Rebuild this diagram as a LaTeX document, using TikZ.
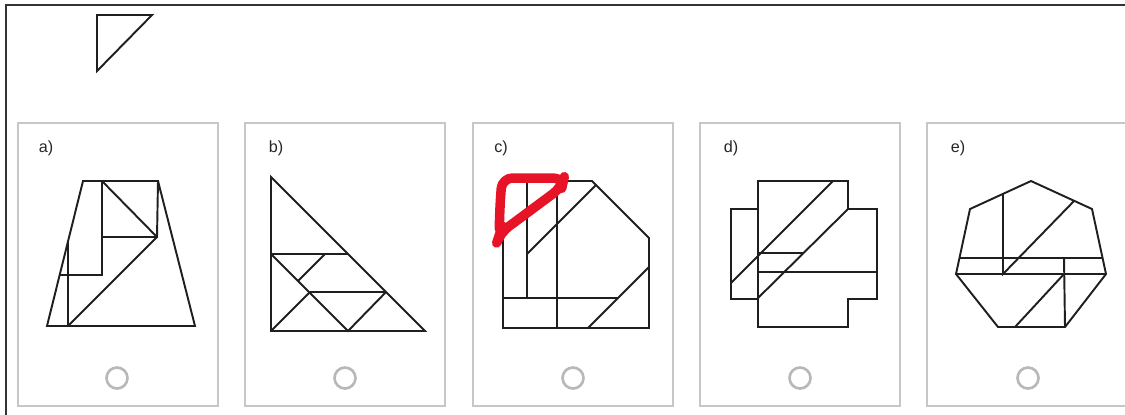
\documentclass[tikz,border=0pt]{standalone}
\usepackage{fontspec}
\setmainfont{Liberation Sans}
\begin{document}
\begin{tikzpicture}[x=0.1mm,y=-0.1mm,
  shp/.style={draw=black!88,line width=0.55pt,line join=miter},
  panel/.style={draw=black!22,line width=0.4pt},
  frame/.style={draw=black!80,line width=0.6pt},
  radio/.style={draw=black!28,line width=0.75pt},
  lbl/.style={font=\fontsize{4.6pt}{5pt}\selectfont,inner sep=0pt,text=black!85},
  redmark/.style={draw={rgb,255:red,230;green,20;blue,38},line width=0.95mm,line join=round,line cap=round,rounded corners=3}]
\useasboundingbox (0,0) rectangle (1125,414);
\begin{scope}
\clip (0,0) rectangle (1125,414);
% outer frame
\draw[frame] (6,430) -- (6,5) -- (1140,5);
% top triangle
\draw[shp] (97,15) -- (152,15) -- (97,71) -- cycle;
% panels
\foreach \px/\nm in {18/a,245/b,473/c,700/d,927/e}{
  \draw[panel] (\px,123) rectangle ++(200,283);
}
\node[lbl] (la) at (46,148) {a)};
\node[lbl] (lb) at (276,148) {b)};
\node[lbl] (lc) at (501,148) {c)};
\node[lbl] (ld) at (731,148) {d)};
\node[lbl] (le) at (958,148) {e)};
\foreach \cx in {117,345,573,800,1028}{
  \draw[radio] (\cx,378) circle (10.5);
}
% panel a
\draw[shp] (83,181) -- (158,181) -- (195,326) -- (47,326) -- cycle;
\draw[shp] (102,181) -- (102,275) -- (60,275);
\draw[shp] (68,241) -- (68,326);
\draw[shp] (102,237) -- (157,237) -- (158,181);
\draw[shp] (102,181) -- (157,237) -- (68,326);
% panel b
\draw[shp] (271,177) -- (425,331) -- (271,331) -- cycle;
\draw[shp] (271,254) -- (348,254);
\draw[shp] (310,292) -- (386,292);
\draw[shp] (271,254) -- (348,331) -- (386,292);
\draw[shp] (271,331) -- (310,292);
\draw[shp] (298,281) -- (325,254);
% panel c
\draw[shp] (503,181) -- (592,181) -- (649,238) -- (649,328) -- (503,328) -- cycle;
\draw[shp] (527,181) -- (527,298);
\draw[shp] (557,181) -- (557,328);
\draw[shp] (503,298) -- (618,298);
\draw[shp] (588,328) -- (649,267);
\draw[shp] (527,254) -- (596,185);
\draw[redmark] (500,205) -- (502,178) -- (564,178) -- (562,187) -- (500,233) -- (499,236) -- cycle;
% panel d
\draw[shp] (758,181) -- (848,181) -- (848,209) -- (877,209) -- (877,299) -- (848,299) -- (848,327) -- (758,327) -- cycle;
\draw[shp] (758,209) -- (731,209) -- (731,299) -- (758,299);
\draw[shp] (758,272) -- (877,272);
\draw[shp] (758,253) -- (803,253);
\draw[shp] (731,283) -- (833,181);
\draw[shp] (758,298) -- (848,209);
% panel e
\draw[shp] (1031,181) -- (1092,209) -- (1106,274) -- (1065,327) -- (998,327) -- (956,274) -- (970,209) -- cycle;
\draw[shp] (959.4,258) -- (1102.6,258);
\draw[shp] (956,274) -- (1106,274);
\draw[shp] (1003,194) -- (1003,274) -- (1074,201);
\draw[shp] (1064,258) -- (1065,327);
\draw[shp] (1015,327) -- (1064,274);
\end{scope}
\end{tikzpicture}
\end{document}
